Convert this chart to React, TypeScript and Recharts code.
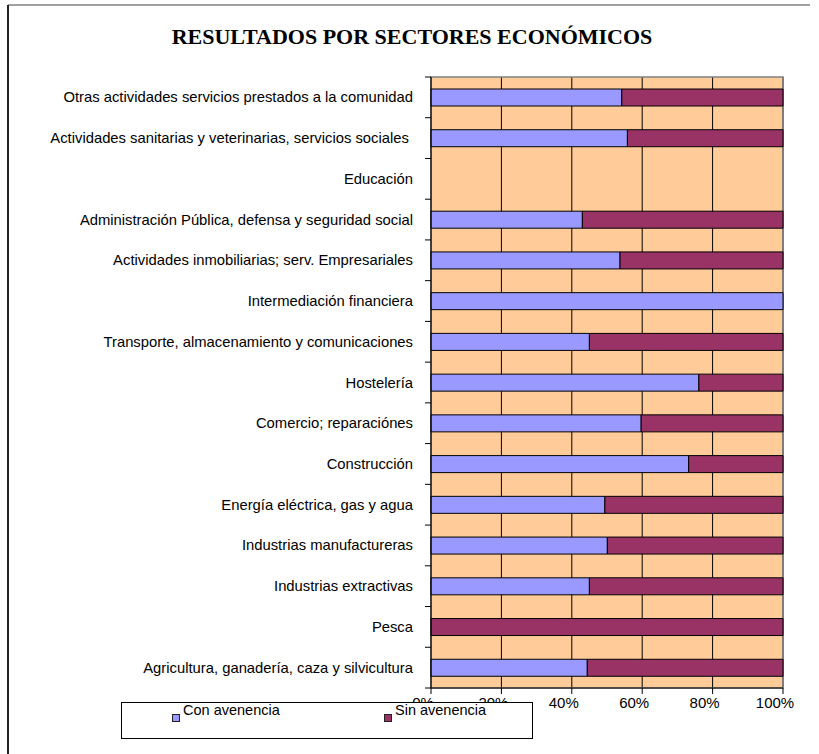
import React from "react";
import { BarChart, Bar, XAxis, YAxis, CartesianGrid, Legend, ReferenceArea } from "recharts";

const categories = [
  "Otras actividades servicios prestados a la comunidad",
  "Actividades sanitarias y veterinarias, servicios sociales ",
  "Educación",
  "Administración Pública, defensa y seguridad social",
  "Actividades inmobiliarias; serv. Empresariales",
  "Intermediación financiera",
  "Transporte, almacenamiento y comunicaciones",
  "Hostelería",
  "Comercio; reparaciónes",
  "Construcción",
  "Energía eléctrica, gas y agua",
  "Industrias manufactureras",
  "Industrias extractivas",
  "Pesca",
  "Agricultura, ganadería, caza y silvicultura",
];

const conAvenencia = [54.2, 55.8, 0, 43.0, 53.7, 100, 45.0, 76.1, 59.7, 73.2, 49.4, 50.1, 45.0, 0, 44.4];
const sinAvenencia = [45.8, 44.2, 0, 57.0, 46.3, 0, 55.0, 23.9, 40.3, 26.8, 50.6, 49.9, 55.0, 100, 55.6];

const xTicks = [0, 20, 40, 60, 80, 100];

const data = categories.map((name, i) => ({
  name,
  con: conAvenencia[i],
  sin: sinAvenencia[i],
}));

const W = 819;
const H = 754;
const MARGIN = { top: 77, right: 36, bottom: 36, left: 0 };
const X_AXIS_H = 30;
const BAND = (H - MARGIN.top - MARGIN.bottom - X_AXIS_H) / categories.length;
const SANS = "'Liberation Sans', Arial, sans-serif";

function CategoryTick(props: any) {
  const { x, y, payload, index } = props;
  const half = BAND / 2;
  return (
    <g>
      <text x={x} y={y} dy={5} textAnchor="end" fontSize={14.8} fill="#000" fontFamily={SANS} style={{ whiteSpace: "pre" }}>
        {payload.value}
      </text>
      <line x1={x + 12} x2={x + 18} y1={y - half} y2={y - half} stroke="#000" />
      {index === categories.length - 1 && (
        <line x1={x + 12} x2={x + 18} y1={y + half} y2={y + half} stroke="#000" />
      )}
    </g>
  );
}

// Excel-style boxed legend, sits over the lower half of the 0% / 20% labels
function LegendBox(props: any) {
  const items = props.payload || [];
  const spots = [50, 262];
  return (
    <div
      style={{
        position: "relative",
        width: 412,
        height: 37,
        boxSizing: "border-box",
        border: "1px solid #000",
        background: "#fff",
        fontFamily: SANS,
        fontSize: 14.5,
        color: "#000",
      }}
    >
      {items.map((item: any, i: number) => (
        <div key={item.value} style={{ position: "absolute", left: spots[i], top: -1, display: "flex" }}>
          <span
            style={{
              width: 8,
              height: 8,
              marginTop: 12,
              marginRight: 3,
              boxSizing: "border-box",
              border: "1px solid #222",
              background: item.color,
            }}
          />
          <span>{item.value}</span>
        </div>
      ))}
    </div>
  );
}

export default function App() {
  return (
    <div style={{ position: "absolute", left: 0, top: 0, width: W, height: H, background: "#fff", overflow: "hidden" }}>
      <div style={{ position: "absolute", left: 8, top: 4, width: 802, height: 2, background: "#a0a0a0" }} />
      <div style={{ position: "absolute", left: 7, top: 5, width: 2, height: H, background: "#222" }} />
      <div
        style={{
          position: "absolute",
          left: 0,
          top: 24,
          width: 824,
          textAlign: "center",
          fontFamily: "'Liberation Serif', 'Times New Roman', serif",
          fontWeight: "bold",
          fontSize: 22,
          color: "#000",
        }}
      >
        RESULTADOS POR SECTORES ECONÓMICOS
      </div>
      <BarChart width={W} height={H} data={data} layout="vertical" margin={MARGIN} barSize={17}>
        <CartesianGrid horizontal={false} stroke="#000" fill="#FFCC99" fillOpacity={1} />
        <XAxis
          type="number"
          domain={[0, 100]}
          ticks={xTicks}
          height={X_AXIS_H}
          tickFormatter={(v) => `${v}%`}
          tick={{ fontSize: 15, fill: "#000", fontFamily: SANS, dx: -8 }}
          tickMargin={3}
          axisLine={{ stroke: "#000" }}
          tickLine={{ stroke: "#000" }}
        />
        <YAxis
          type="category"
          dataKey="name"
          width={431}
          interval={0}
          tickSize={0}
          tickMargin={18}
          tick={<CategoryTick />}
          axisLine={{ stroke: "#000" }}
        />
        <ReferenceArea x1={0} x2={100} fill="none" stroke="#808080" strokeWidth={1.5} />
        <Bar dataKey="con" name="Con avenencia" stackId="a" fill="#9999FF" stroke="#000" strokeWidth={1} isAnimationActive={false} />
        <Bar dataKey="sin" name="Sin avenencia" stackId="a" fill="#993366" stroke="#000" strokeWidth={1} isAnimationActive={false} />
        <Legend
          layout="horizontal"
          verticalAlign="middle"
          align="center"
          content={<LegendBox />}
          wrapperStyle={{ left: 121, top: 702, width: 412, height: 37 }}
        />
      </BarChart>
    </div>
  );
}
